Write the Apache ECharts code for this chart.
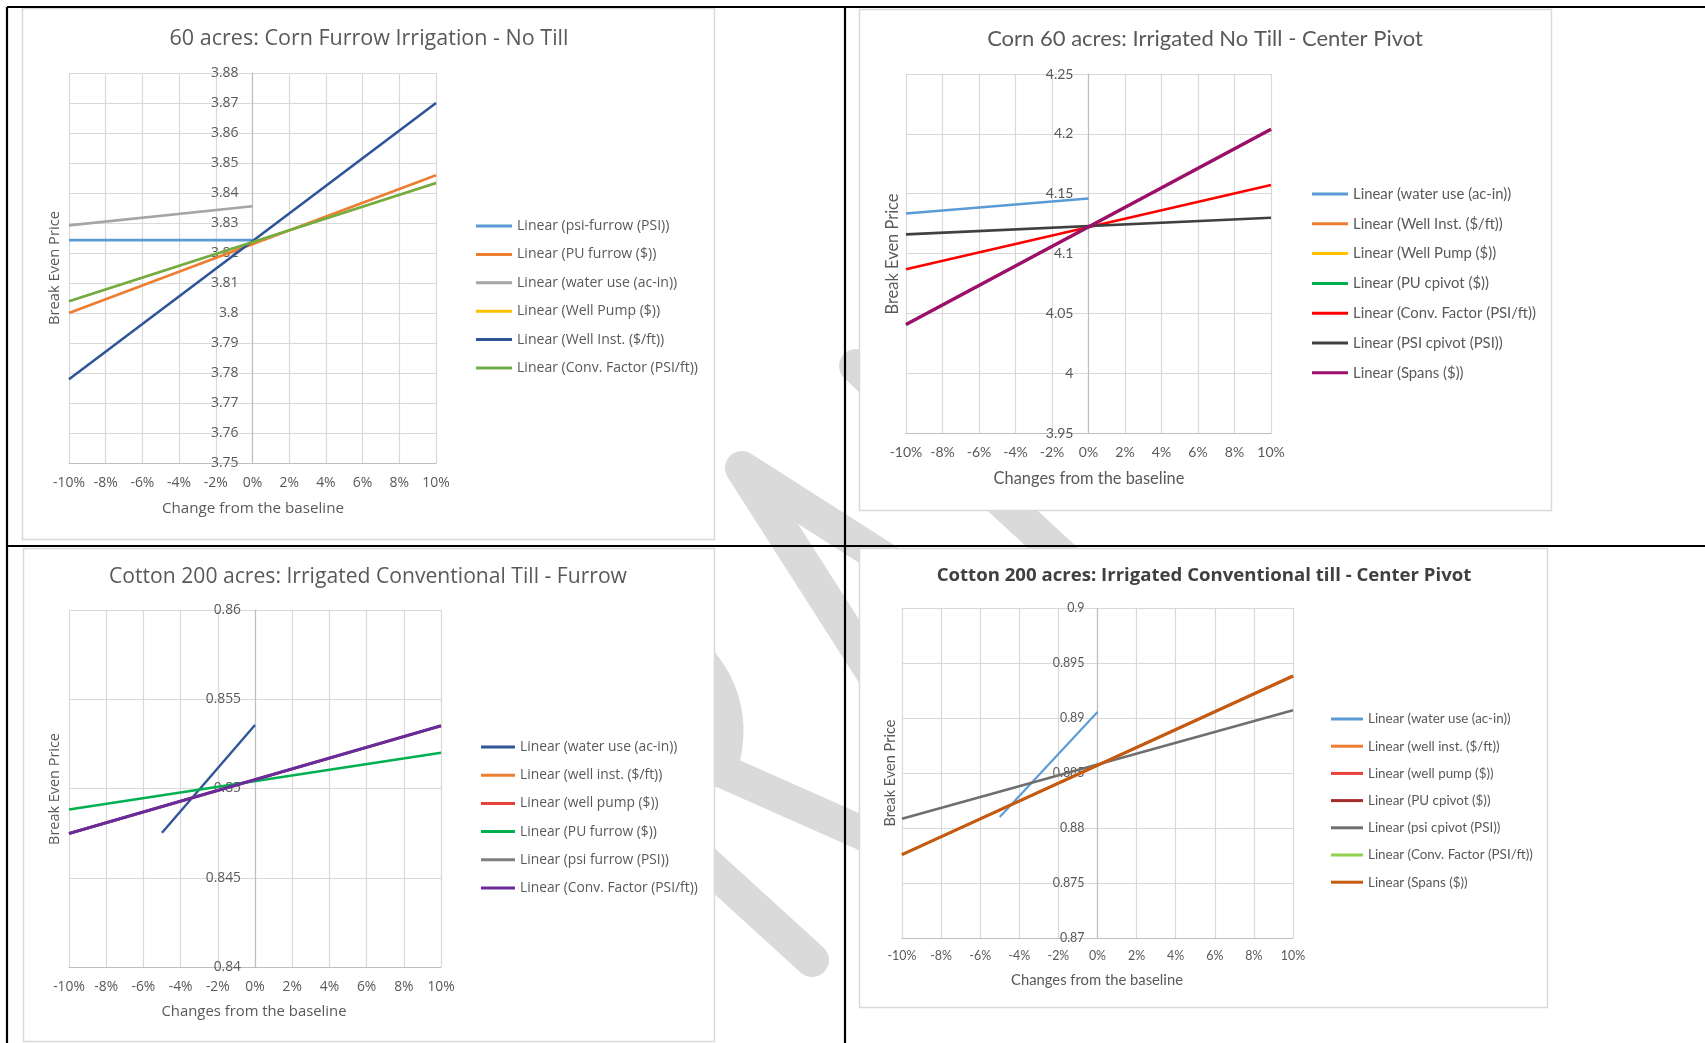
<!DOCTYPE html>
<html>
<head>
<meta charset="utf-8">
<script src="https://cdn.jsdelivr.net/npm/echarts@6/dist/echarts.min.js"></script>
<style>html,body{margin:0;padding:0;background:#fff}#c{width:1705px;height:1043px}</style>
</head>
<body>
<div id="c"></div>
<script>
// ================= DATA =================
const xTicks = [-10, -8, -6, -4, -2, 0, 2, 4, 6, 8, 10];
const yName = 'Break Even Price';

// Panel 1
const p1Title = '60 acres: Corn Furrow Irrigation - No Till';
const p1XName = 'Change from the baseline';
const p1YTicks = [3.75, 3.76, 3.77, 3.78, 3.79, 3.80, 3.81, 3.82, 3.83, 3.84, 3.85, 3.86, 3.87, 3.88];
const p1Names = ['Linear (psi-furrow (PSI))', 'Linear (PU furrow ($))', 'Linear (water use (ac-in))', 'Linear (Well Pump ($))', 'Linear (Well Inst. ($/ft))', 'Linear (Conv. Factor (PSI/ft))'];
const p1XFrom = [-10, -10, -10, -10, -10, -10];
const p1XTo   = [0, 10, 0, 10, 10, 10];
const p1YFrom = [3.8243, 3.8000, 3.8292, 3.8039, 3.7779, 3.8039];
const p1YTo   = [3.8243, 3.8459, 3.8356, 3.8433, 3.8700, 3.8433];

// Panel 2
const p2Title = 'Corn 60 acres: Irrigated No Till - Center Pivot';
const p2XName = 'Changes from the baseline';
const p2YTicks = [3.95, 4.00, 4.05, 4.10, 4.15, 4.20, 4.25];
const p2Names = ['Linear (water use (ac-in))', 'Linear (Well Inst. ($/ft))', 'Linear (Well Pump ($))', 'Linear (PU cpivot ($))', 'Linear (Conv. Factor (PSI/ft))', 'Linear (PSI cpivot (PSI))', 'Linear (Spans ($))'];
const p2XFrom = [-10, -10, -10, -10, -10, -10, -10];
const p2XTo   = [0, 10, 10, 10, 10, 10, 10];
const p2YFrom = [4.1334, 4.0407, 4.0407, 4.0407, 4.0869, 4.1160, 4.0407];
const p2YTo   = [4.1459, 4.2038, 4.2038, 4.2038, 4.1573, 4.1299, 4.2038];

// Panel 3
const p3Title = 'Cotton 200 acres: Irrigated Conventional Till - Furrow';
const p3XName = 'Changes from the baseline';
const p3YTicks = [0.840, 0.845, 0.850, 0.855, 0.860];
const p3Names = ['Linear (water use (ac-in))', 'Linear (well inst. ($/ft))', 'Linear (well pump ($))', 'Linear (PU furrow ($))', 'Linear (psi furrow (PSI))', 'Linear (Conv. Factor (PSI/ft))'];
const p3XFrom = [-5, -10, -10, -10, -10, -10];
const p3XTo   = [0, 10, 10, 10, 10, 10];
const p3YFrom = [0.84752, 0.84748, 0.84748, 0.84882, 0.84748, 0.84748];
const p3YTo   = [0.85356, 0.85351, 0.85351, 0.85200, 0.85351, 0.85351];

// Panel 4
const p4Title = 'Cotton 200 acres: Irrigated Conventional till - Center Pivot';
const p4XName = 'Changes from the baseline';
const p4YTicks = [0.870, 0.875, 0.880, 0.885, 0.890, 0.895, 0.900];
const p4Names = ['Linear (water use (ac-in))', 'Linear (well inst. ($/ft))', 'Linear (well pump ($))', 'Linear (PU cpivot ($))', 'Linear (psi cpivot (PSI))', 'Linear (Conv. Factor (PSI/ft))', 'Linear (Spans ($))'];
const p4XFrom = [-5, -10, -10, -10, -10, -10, -10];
const p4XTo   = [0, 10, 10, 10, 10, 10, 10];
const p4YFrom = [0.8810, 0.87758, 0.87758, 0.87758, 0.88085, 0.87758, 0.87758];
const p4YTo   = [0.89055, 0.89382, 0.89382, 0.89382, 0.8907, 0.89382, 0.89382];

// ================= STYLES =================
const p1Colors = ['#5B9BD5', '#ED7D31', '#A5A5A5', '#FFC000', '#2F5597', '#70AD47'];
const p1Widths = [2.6, 2.6, 2.6, 2.2, 2.6, 2.6];
const p2Colors = ['#5B9BD5', '#ED7D31', '#FFC000', '#00B050', '#FF0000', '#404040', '#9C0F6B'];
const p2Widths = [2.6, 2.4, 2.4, 2.4, 2.6, 2.6, 3.3];
const p3Colors = ['#2F5597', '#ED7D31', '#E8403A', '#00B050', '#7F7F7F', '#6A2C9A'];
const p3Widths = [2.4, 2.4, 2.4, 2.6, 2.4, 3.1];
const p4Colors = ['#5B9BD5', '#ED7D31', '#E8403A', '#A52A2A', '#6F6F6F', '#92D050', '#C55A11'];
const p4Widths = [2.1, 2, 2, 2, 2.6, 2, 3.1];

const layouts = [
  {grid: {left: 69, top: 73, width: 367, height: 390}, font: '"Open Sans"', titleFont: '"Open Sans"', titleWeight: 'normal', titleColor: '#595959',
   title: [369, 39, 399], legend: {left: 476, first: 226, step: 28.4, iconW: 36, target: 181}, tickTarget: 32,
   xName: [253, 509, 182], yName: [55, 268, 114], yMargin: 14, xLabelY: 484},
  {grid: {left: 906, top: 74, width: 365, height: 359}, font: 'Lato', titleFont: 'Lato', titleWeight: 'normal', titleColor: '#595959',
   title: [1205, 39, 436], legend: {left: 1312, first: 194, step: 29.8, iconW: 36, target: 183}, tickTarget: 32.7,
   xName: [1089, 479, 191], yName: [893, 254, 121], yMargin: 15, xLabelY: 453},
  {grid: {left: 69, top: 610, width: 372, height: 357}, font: '"Open Sans"', titleFont: '"Open Sans"', titleWeight: 'normal', titleColor: '#595959',
   title: [368, 577, 518], legend: {left: 481, first: 747, step: 28.2, iconW: 34, target: 178}, tickTarget: 31.7,
   xName: [254, 1012, 185], yName: [55, 789, 112], yMargin: 14, xLabelY: 988},
  {grid: {left: 902, top: 608, width: 391, height: 330}, font: 'Lato', titleFont: '"Open Sans"', titleWeight: 'bold', titleColor: '#404040',
   title: [1204, 576, 535], legend: {left: 1331, first: 719, step: 27.2, iconW: 32, target: 165}, tickTarget: 29,
   xName: [1097, 980, 172], yName: [890, 773, 107], yMargin: 13, xLabelY: 957}
];

const panels = [
  {title: p1Title, xName: p1XName, yTicks: p1YTicks, names: p1Names, xFrom: p1XFrom, xTo: p1XTo, yFrom: p1YFrom, yTo: p1YTo, colors: p1Colors, widths: p1Widths},
  {title: p2Title, xName: p2XName, yTicks: p2YTicks, names: p2Names, xFrom: p2XFrom, xTo: p2XTo, yFrom: p2YFrom, yTo: p2YTo, colors: p2Colors, widths: p2Widths},
  {title: p3Title, xName: p3XName, yTicks: p3YTicks, names: p3Names, xFrom: p3XFrom, xTo: p3XTo, yFrom: p3YFrom, yTo: p3YTo, colors: p3Colors, widths: p3Widths},
  {title: p4Title, xName: p4XName, yTicks: p4YTicks, names: p4Names, xFrom: p4XFrom, xTo: p4XTo, yFrom: p4YFrom, yTo: p4YTo, colors: p4Colors, widths: p4Widths}
];

// ================= BUILD =================
const ctx = document.createElement('canvas').getContext('2d');
function fit(text, family, weight, target) {
  ctx.font = weight + ' 100px ' + family;
  return +(100 * target / ctx.measureText(text).width).toFixed(2);
}
const TXT = '#595959';
const opt = {
  animation: false, backgroundColor: '#ffffff',
  title: [], grid: [], xAxis: [], yAxis: [], legend: [], series: [], graphic: []
};

// watermark (below chart boxes)
const wm = {stroke: '#DADADA', lineWidth: 34, fill: 'none', lineCap: 'round', lineJoin: 'round'};
[[[930, 588], [742, 468], [905, 723]], [[720, 770], [950, 872]], [[620, 785], [812, 960]], [[856, 366], [1120, 610]]]
  .forEach(pts => opt.graphic.push({type: 'polyline', z: -5, silent: true, shape: {points: pts}, style: Object.assign({}, wm)}));
opt.graphic.push({type: 'bezierCurve', z: -5, silent: true, shape: {x1: 688, y1: 648, cpx1: 742, cpy1: 700, x2: 720, y2: 770}, style: Object.assign({}, wm)});

// chart boxes
[[22.5, 8.5, 692, 531], [859.5, 9.5, 692, 501], [23.5, 548.5, 691, 493], [859.5, 548.5, 688, 459]].forEach(b =>
  opt.graphic.push({type: 'rect', z: -4, silent: true, shape: {x: b[0], y: b[1], width: b[2], height: b[3]}, style: {fill: '#ffffff', stroke: '#D9D9D9', lineWidth: 1.5}}));

// table borders
[[7, 7, 1705, 7], [7, 7, 7, 1043], [845, 7, 845, 1043], [7, 546, 1705, 546]].forEach(l =>
  opt.graphic.push({type: 'line', z: 10, silent: true, shape: {x1: l[0], y1: l[1], x2: l[2], y2: l[3]}, style: {stroke: '#000000', lineWidth: 2.2}}));

panels.forEach((d, i) => {
  const L = layouts[i];
  const tickFs = fit('-10%', L.font, 'normal', L.tickTarget);
  const legFs = fit('Linear (Conv. Factor (PSI/ft))', L.font, 'normal', L.legend.target);
  const titleFs = fit(d.title, L.titleFont, L.titleWeight, L.title[2]);
  const xnFs = fit(d.xName, L.font, 'normal', L.xName[2]);
  const ynFs = fit(yName, L.font, 'normal', L.yName[2]);

  const tlh = Math.round(titleFs * 1.3);
  opt.title.push({text: d.title, left: L.title[0], top: L.title[1] - tlh / 2, textAlign: 'center', padding: 0,
    textStyle: {fontFamily: L.titleFont, fontWeight: L.titleWeight, fontSize: titleFs, color: L.titleColor, lineHeight: tlh}});

  opt.grid.push(Object.assign({show: false, outerBoundsMode: 'none', containLabel: false}, L.grid));

  const axisBottom = L.grid.top + L.grid.height;
  opt.xAxis.push({type: 'value', gridIndex: i, min: xTicks[0], max: xTicks[xTicks.length - 1], interval: xTicks[1] - xTicks[0],
    axisLine: {show: true, onZero: false, lineStyle: {color: '#BFBFBF', width: 1.2}},
    axisTick: {show: false},
    axisLabel: {formatter: '{value}%', color: TXT, fontFamily: L.font, fontSize: tickFs, margin: Math.round(L.xLabelY - axisBottom - tickFs * 0.6)},
    splitLine: {show: true, lineStyle: {color: '#D9D9D9', width: 1.2}}});

  // vertical axis crosses the horizontal one at 0%: shift it from the grid's left edge to the 0% position
  const zeroShift = L.grid.width * (0 - xTicks[0]) / (xTicks[xTicks.length - 1] - xTicks[0]);
  const yt = d.yTicks;
  opt.yAxis.push({type: 'value', gridIndex: i, position: 'left', offset: -zeroShift,
    min: yt[0], max: yt[yt.length - 1], interval: +(yt[1] - yt[0]).toFixed(4),
    axisLine: {show: true, onZero: false, lineStyle: {color: '#BFBFBF', width: 1.2}},
    axisTick: {show: false},
    axisLabel: {color: TXT, fontFamily: L.font, fontSize: tickFs, margin: L.yMargin},
    splitLine: {show: true, lineStyle: {color: '#D9D9D9', width: 1.2}}});

  const LH = 18;
  opt.legend.push({orient: 'vertical', left: L.legend.left, top: L.legend.first - LH / 2, padding: 0,
    itemWidth: L.legend.iconW, itemHeight: 3, icon: 'rect', itemGap: L.legend.step - LH, selectedMode: false,
    textStyle: {fontFamily: L.font, fontSize: legFs, color: TXT, lineHeight: LH},
    data: d.names.map((n, k) => ({name: n, itemStyle: {color: d.colors[k]}}))});

  d.names.forEach((n, k) => {
    opt.series.push({type: 'line', name: n, xAxisIndex: i, yAxisIndex: i, symbol: 'none', showSymbol: false, silent: true,
      color: d.colors[k], lineStyle: {color: d.colors[k], width: d.widths[k]},
      data: [[d.xFrom[k], d.yFrom[k]], [d.xTo[k], d.yTo[k]]]});
  });

  opt.graphic.push({type: 'text', z: 5, silent: true, x: L.xName[0], y: L.xName[1],
    style: {text: d.xName, fill: TXT, fontFamily: L.font, fontSize: xnFs, textAlign: 'center', textVerticalAlign: 'middle', verticalAlign: 'middle'}});
  opt.graphic.push({type: 'text', z: 5, silent: true, x: L.yName[0], y: L.yName[1], rotation: Math.PI / 2,
    style: {text: yName, fill: TXT, fontFamily: L.font, fontSize: ynFs, textAlign: 'center', textVerticalAlign: 'middle', verticalAlign: 'middle'}});
});

const chart = echarts.init(document.getElementById('c'), null, {renderer: 'canvas', width: 1705, height: 1043});
chart.setOption(opt);
</script>
</body>
</html>
